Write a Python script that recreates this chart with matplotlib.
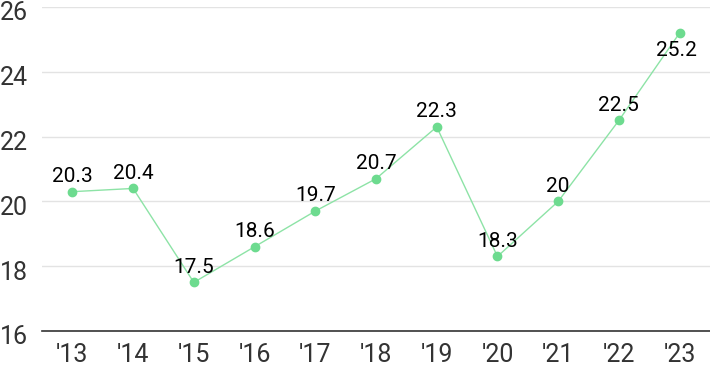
import matplotlib.pyplot as plt
import matplotlib.transforms as mtransforms

years = ["'13", "'14", "'15", "'16", "'17", "'18", "'19", "'20", "'21", "'22", "'23"]
values = [20.3, 20.4, 17.5, 18.6, 19.7, 20.7, 22.3, 18.3, 20.0, 22.5, 25.2]
labels = ['20.3', '20.4', '17.5', '18.6', '19.7', '20.7', '22.3', '18.3', '20', '22.5', '25.2']

plt.rcParams['font.family'] = ['Roboto', 'DejaVu Sans']

fig = plt.figure(figsize=(7.1, 3.71), dpi=100)
ax = fig.add_axes([42 / 710, 1 - 331 / 371, 1 - 42 / 710, 324 / 371])

x = list(range(len(years)))
ax.plot(x, values, color='#8de3a6', linewidth=1, zorder=3)
ax.plot(x, values, 'o', color='#6ddb8f', markersize=6, zorder=4)

for i, (v, t) in enumerate(zip(values, labels)):
    if i == len(values) - 1:
        ax.annotate(t, (i, v), xytext=(-2, -13), textcoords='offset points',
                    ha='center', va='center', fontsize=15, color='#000000', zorder=5)
    else:
        ax.annotate(t, (i, v), xytext=(0, 11), textcoords='offset points',
                    ha='center', va='center', fontsize=15, color='#000000', zorder=5)

ax.set_xlim(-0.5, 10.5)
ax.set_ylim(16, 26)
ax.set_yticks([16, 18, 20, 22, 24, 26])
ax.set_xticks(x)
ax.set_xticklabels(years)
ax.grid(axis='y', color='#e3e3e3', linewidth=1)
ax.set_axisbelow(True)
for s in ['top', 'right', 'left']:
    ax.spines[s].set_visible(False)
ax.spines['bottom'].set_color('#333333')
ax.spines['bottom'].set_linewidth(1.2)
ax.tick_params(axis='both', length=0, labelsize=18, colors='#333333')
ax.tick_params(axis='x', pad=9)
ax.yaxis.set_tick_params(pad=42 * 72 / 100)
shift = mtransforms.ScaledTranslation(0, -4 / 100, fig.dpi_scale_trans)
for lbl in ax.get_yticklabels():
    lbl.set_horizontalalignment('left')
    lbl.set_transform(lbl.get_transform() + shift)

fig.savefig('out.png', dpi=100)
